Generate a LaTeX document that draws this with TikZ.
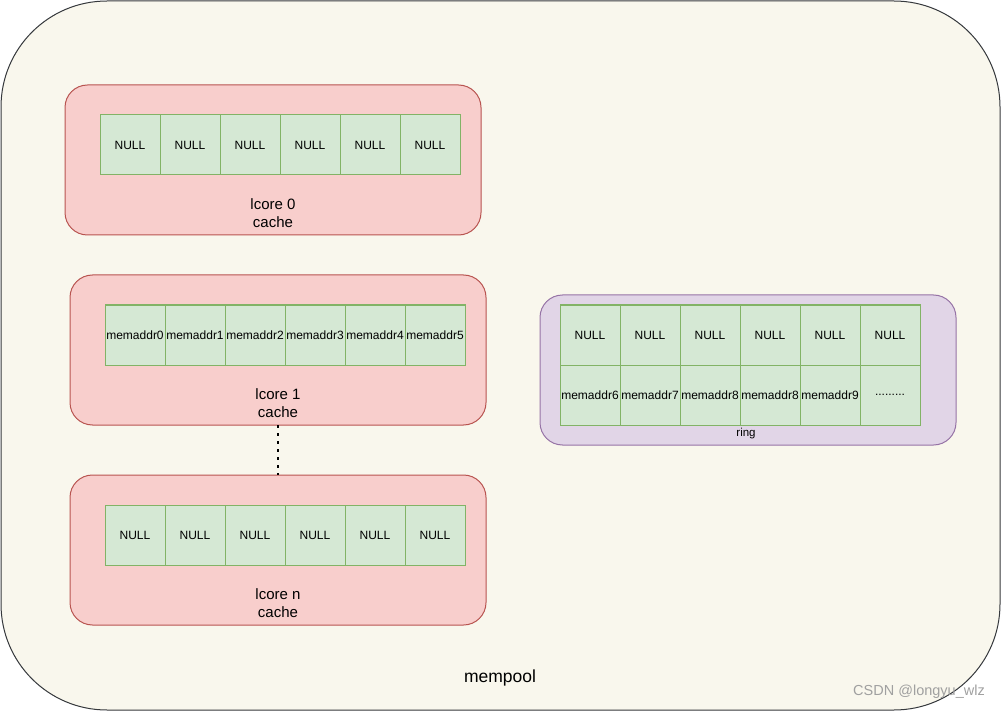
\documentclass[tikz,border=0pt]{standalone}
\usepackage{fontspec}
\setmainfont{Liberation Sans}
\definecolor{poolfill}{HTML}{F9F7ED}
\definecolor{poolline}{HTML}{36393D}
\definecolor{redfill}{HTML}{F8CECC}
\definecolor{redline}{HTML}{B85450}
\definecolor{greenfill}{HTML}{D5E8D4}
\definecolor{greenline}{HTML}{82B366}
\definecolor{purplefill}{HTML}{E1D5E7}
\definecolor{purpleline}{HTML}{9673A6}
\definecolor{wmark}{HTML}{A0A0A0}
\begin{document}
\begin{tikzpicture}[x=1pt,y=-1pt,
  box/.style={shape=rectangle, anchor=north west, inner sep=0pt, outer sep=0pt, line width=1pt},
  pool/.style={box, draw=poolline, fill=poolfill, rounded corners=106pt, minimum width=999pt, minimum height=709pt},
  cachebox/.style={box, draw=redline, fill=redfill, rounded corners=22.5pt, minimum width=416pt, minimum height=150pt},
  ringbox/.style={box, draw=purpleline, fill=purplefill, rounded corners=22.5pt, minimum width=416pt, minimum height=150pt},
  cell/.style={box, draw=greenline, fill=greenfill, minimum width=60pt, minimum height=60pt, font=\fontsize{12}{14}\selectfont},
  lbl/.style={align=center, inner sep=0pt, font=\fontsize{15}{17.5}\selectfont},
  dotline/.style={line width=2pt, dash pattern=on 2.5pt off 5.5pt, black}
]
\useasboundingbox (0,0) rectangle (1001,711);
\node[pool] (pool) at (1,1) {};
% lcore 0
\node[cachebox] (lc0) at (65,85) {};
\foreach \i in {0,...,5} {
  \node[cell] (a\i) at ({100+60*\i},115) {NULL};
}
\node[lbl] (t0) at (273,213) {lcore 0\\cache};
% lcore 1
\node[cachebox] (lc1) at (70,275) {};
\foreach \i in {0,...,5} {
  \node[cell] (b\i) at ({105+60*\i},305) {memaddr\i};
}
\node[lbl] (t1) at (278,403) {lcore 1\\cache};
% lcore n
\node[cachebox] (lcn) at (70,475) {};
\foreach \i in {0,...,5} {
  \node[cell] (c\i) at ({105+60*\i},505) {NULL};
}
\node[lbl] (tn) at (278,603) {lcore n\\cache};
\draw[dotline] (lc1.south) -- (lcn.north);
% ring
\node[ringbox] (ring) at (540,295) {};
\foreach \i in {0,...,5} {
  \node[cell] (r\i) at ({560+60*\i},305) {NULL};
}
\node[cell] (m0) at (560,365) {memaddr6};
\node[cell] (m1) at (620,365) {memaddr7};
\node[cell] (m2) at (680,365) {memaddr8};
\node[cell] (m3) at (740,365) {memaddr8};
\node[cell] (m4) at (800,365) {memaddr9};
\node[cell] (m5) at (860,365) {.........};
\node[inner sep=0pt, font=\fontsize{11.5}{13}\selectfont] (tr) at (746,434) {ring};
% labels
\node[inner sep=0pt, font=\fontsize{17.5}{20}\selectfont] (tp) at (500,678) {mempool};
\node[inner sep=0pt, text=wmark, font=\fontsize{14.5}{17}\selectfont] (wm) at (919,692) {CSDN @longyu\_wlz};
\end{tikzpicture}
\end{document}
